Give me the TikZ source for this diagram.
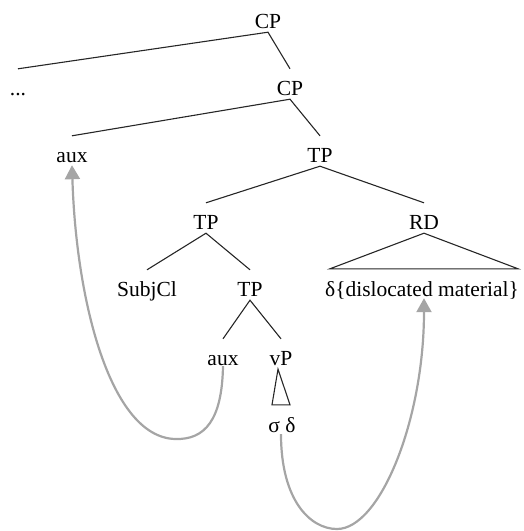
\documentclass[tikz,border=0pt]{standalone}
\usepackage{fontspec}
\setmainfont{Liberation Serif}
\usetikzlibrary{arrows.meta}
\definecolor{arrowgray}{RGB}{165,165,165}
\begin{document}
\begin{tikzpicture}[x=1pt,y=-1pt,
  lbl/.style={anchor=base,inner sep=0pt,text height=26pt,text depth=4pt,font=\fontsize{21.5}{26}\selectfont},
  branch/.style={draw=black!85,line width=1.1pt},
  move/.style={draw=arrowgray,line width=2.2pt,-{Triangle[width=15pt,length=14pt]}}]
\useasboundingbox (0,0) rectangle (523,531);
\node[lbl] (cp1) at (268,28) {CP};
\node[lbl] (dots) at (18,95) {...};
\node[lbl] (cp2) at (290,95) {CP};
\node[lbl] (aux1) at (72,162) {aux};
\node[lbl] (tp1) at (320,162) {TP};
\node[lbl] (tp2) at (206,229) {TP};
\node[lbl] (rd) at (424,229) {RD};
\node[lbl] (subj) at (147,296) {SubjCl};
\node[lbl] (tp3) at (250,296) {TP};
\node[lbl] (mat) at (422,296) {δ\{dislocated material\}};
\node[lbl] (aux2) at (223,365) {aux};
\node[lbl] (vp) at (281,365) {vP};
\node[lbl] (sd) at (282,432) {σ δ};
\draw[branch] (dots.north) -- (cp1.south) -- (cp2.north);
\draw[branch] (aux1.north) -- (cp2.south) -- (tp1.north);
\draw[branch] (tp2.north) -- (tp1.south) -- (rd.north);
\draw[branch] (subj.north) -- (tp2.south) -- (tp3.north);
\draw[branch] (aux2.north) -- (tp3.south) -- (vp.north);
\draw[branch] (rd.south) -- ([xshift=5pt,yshift=1pt]mat.north west) -- ([xshift=-1pt,yshift=1pt]mat.north east) -- cycle;
\draw[branch] ([xshift=-3pt]vp.south) -- ([xshift=-10pt,yshift=1pt]sd.north) -- ([xshift=8pt,yshift=1pt]sd.north) -- cycle;
\draw[move] ([yshift=3pt]aux2.south) .. controls (222,420) and (205,440) .. (175,439)
  .. controls (110,437) and (76,300) .. ([yshift=1pt]aux1.south);
\draw[move] ([xshift=-1pt,yshift=2pt]sd.south) .. controls (281,500) and (310,529) .. (337,529)
  .. controls (380,529) and (424,420) .. ([xshift=2pt,yshift=2pt]mat.south);
\end{tikzpicture}
\end{document}
